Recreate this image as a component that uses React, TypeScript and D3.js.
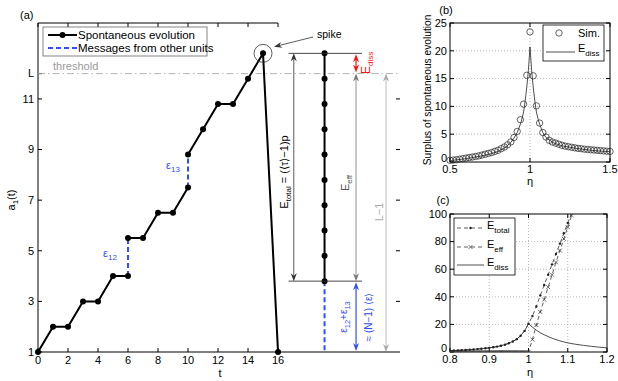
import * as d3 from 'd3';

const FONT = 'Liberation Sans, Arial, Helvetica, sans-serif';

// (a) evolution of one unit a1(t)
const runA_t = [0, 1, 2, 3, 4, 5, 6];
const runA_a = [1, 2, 2, 3, 3, 4, 4];
const runB_t = [6, 7, 8, 9, 10];
const runB_a = [5.5, 5.5, 6.5, 6.5, 7.5];
const runC_t = [10, 11, 12, 13, 14, 15, 16];
const runC_a = [8.8, 9.8, 10.8, 10.8, 11.8, 12.8, 1];
const msgT = [6, 10];
const msgFrom = [4, 7.5];
const msgTo = [5.5, 8.8];
const ladderT = 19.1;
const ladderA = [12.8, 11.8, 10.8, 9.8, 8.8, 7.8, 6.8, 5.8, 4.8, 3.8];
const threshold = 12;
const xTicksA = [0, 2, 4, 6, 8, 10, 12, 14, 16];
const yTicksA = [1, 3, 5, 7, 9, 11, 12];
const yTickLabelsA = ['1', '3', '5', '7', '9', '11', 'L'];

// (b) surplus of spontaneous evolution
const simEta = [0.50, 0.52, 0.54, 0.56, 0.58, 0.60, 0.62, 0.64, 0.66, 0.68,
  0.70, 0.72, 0.74, 0.76, 0.78, 0.80, 0.82, 0.84, 0.86, 0.88,
  0.90, 0.92, 0.94, 0.96, 0.98, 1.00, 1.02, 1.04, 1.06, 1.08,
  1.10, 1.12, 1.14, 1.16, 1.18, 1.20, 1.22, 1.24, 1.26, 1.28,
  1.30, 1.32, 1.34, 1.36, 1.38, 1.40, 1.42, 1.44, 1.46, 1.48, 1.50];
const simVal = [0.3, 0.35, 0.4, 0.5, 0.6, 0.7, 0.8, 0.9, 1.0, 1.1,
  1.25, 1.4, 1.55, 1.7, 1.9, 2.1, 2.4, 2.7, 3.1, 3.6,
  4.4, 5.5, 7.6, 10.4, 15.6, 23.4, 15.5, 10.1, 7.0, 5.3,
  4.5, 3.9, 3.6, 3.4, 3.2, 3.0, 2.85, 2.75, 2.65, 2.55,
  2.45, 2.4, 2.3, 2.25, 2.2, 2.15, 2.1, 2.05, 2.0, 1.95, 1.9];
const dissEtaB = [0.5, 0.6, 0.7, 0.75, 0.8, 0.85, 0.88, 0.9, 0.92, 0.94, 0.95, 0.96, 0.97, 0.98, 0.99, 1.0,
  1.01, 1.02, 1.03, 1.04, 1.05, 1.06, 1.08, 1.1, 1.15, 1.2, 1.3, 1.4, 1.5];
const dissValB = [0.25, 0.6, 1.1, 1.45, 1.9, 2.7, 3.5, 4.3, 5.3, 6.8, 7.8, 9.0, 11.0, 13.5, 16.5, 20.7,
  16.5, 13.5, 11.0, 9.0, 7.8, 6.8, 5.3, 4.4, 3.4, 2.9, 2.4, 2.05, 1.85];

// (c) energy split
const etaC = [0.80, 0.81, 0.82, 0.83, 0.84, 0.85, 0.86, 0.87, 0.88, 0.89, 0.90,
  0.91, 0.92, 0.93, 0.94, 0.95, 0.96, 0.97, 0.98, 0.99, 1.00,
  1.01, 1.02, 1.03, 1.04, 1.05, 1.06, 1.07, 1.08, 1.09, 1.10, 1.11];
const totalC = [1.0, 1.1, 1.2, 1.35, 1.5, 1.7, 1.9, 2.1, 2.4, 2.7, 3.0,
  3.4, 3.9, 4.5, 5.3, 6.3, 7.6, 9.3, 11.8, 15.3, 20.5,
  26, 33, 41, 48.5, 56, 63.5, 71, 78.5, 86, 93.5, 101];
const effEtaLow = [0.800, 0.805, 0.810, 0.815, 0.820, 0.825, 0.830, 0.835, 0.840, 0.845,
  0.850, 0.855, 0.860, 0.865, 0.870, 0.875, 0.880, 0.885, 0.890, 0.895,
  0.900, 0.905, 0.910, 0.915, 0.920, 0.925, 0.930, 0.935, 0.940, 0.945,
  0.950, 0.955, 0.960, 0.965, 0.970, 0.975, 0.980, 0.985, 0.990, 0.995, 1.000];
const effEtaHigh = [1.01, 1.02, 1.03, 1.04, 1.05, 1.06, 1.07, 1.08, 1.09, 1.10, 1.11];
const effValHigh = [9, 19.5, 29, 38, 47, 56, 65, 73.5, 82, 90.5, 99];
const dissEtaC = [0.80, 0.82, 0.84, 0.86, 0.88, 0.90, 0.92, 0.94, 0.96, 0.97, 0.98, 0.99, 1.00,
  1.01, 1.02, 1.03, 1.04, 1.05, 1.06, 1.07, 1.08, 1.09, 1.10, 1.12, 1.14, 1.16, 1.18, 1.20];
const dissValC = [1.0, 1.2, 1.5, 1.9, 2.4, 3.0, 3.9, 5.3, 7.6, 9.3, 11.8, 15.3, 20.5,
  18.0, 15.8, 14.0, 12.5, 11.2, 10.0, 9.0, 8.1, 7.3, 6.6, 5.6, 4.8, 4.1, 3.5, 3.0];

const BLUE = '#2f4dff';
const RED = '#ff1010';

const Head = ({ x, y, ang, color }: { x: number; y: number; ang: number; color: string }) => {
  const L = 8, W = 3, N = 5.5;
  const c = Math.cos(ang), s = Math.sin(ang);
  const bx = x - L * c, by = y - L * s;
  const pts = [[x, y], [bx - W * s, by + W * c], [x - N * c, y - N * s], [bx + W * s, by - W * c]];
  return <polygon points={pts.map(p => p.join(',')).join(' ')} fill={color} />;
};

const VArrow = ({ x, y1, y2, color, w = 0.8 }: { x: number; y1: number; y2: number; color: string; w?: number }) => (
  <g>
    <line x1={x} x2={x} y1={y1 + 3} y2={y2 - 3} stroke={color} strokeWidth={w} />
    <Head x={x} y={y1} ang={-Math.PI / 2} color={color} />
    <Head x={x} y={y2} ang={Math.PI / 2} color={color} />
  </g>
);

// MATLAB-like boxed axes with inward ticks
const BoxAxes = ({ x, y, xTicks, yTicks, xFmt, yFmt, grid }: any) => {
  const [x0, x1] = x.range();
  const [y0, y1] = y.range();
  return (
    <g fontFamily={FONT} fontSize={11}>
      {grid && xTicks.slice(1, -1).map((t: number) => (
        <line key={'gx' + t} x1={x(t)} x2={x(t)} y1={y0} y2={y1} stroke="#aaa" strokeWidth={0.8} strokeDasharray="1,2" />
      ))}
      {grid && yTicks.slice(1, -1).map((t: number) => (
        <line key={'gy' + t} x1={x0} x2={x1} y1={y(t)} y2={y(t)} stroke="#aaa" strokeWidth={0.8} strokeDasharray="1,2" />
      ))}
      <rect x={x0} y={y1} width={x1 - x0} height={y0 - y1} fill="none" stroke="#000" strokeWidth={1} />
      {xTicks.map((t: number) => (
        <g key={'xt' + t}>
          <line x1={x(t)} x2={x(t)} y1={y0} y2={y0 - 4} stroke="#000" />
          <line x1={x(t)} x2={x(t)} y1={y1} y2={y1 + 4} stroke="#000" />
          <text x={x(t)} y={y0 + 11} textAnchor="middle">{xFmt(t)}</text>
        </g>
      ))}
      {yTicks.map((t: number) => (
        <g key={'yt' + t}>
          <line x1={x0} x2={x0 + 4} y1={y(t)} y2={y(t)} stroke="#000" />
          <line x1={x1} x2={x1 - 4} y1={y(t)} y2={y(t)} stroke="#000" />
          <text x={x0 - 3} y={y(t) - (t === 0 ? 4 : 0)} dy="0.35em" textAnchor="end">{yFmt(t)}</text>
        </g>
      ))}
    </g>
  );
};

export default function App() {
  // ---------- panel (a)
  const xA = d3.scaleLinear().domain([0, 24.13]).range([38, 400]);
  const yA = d3.scaleLinear().domain([1, 14]).range([352, 23]);
  const lineA = d3.line<number[]>().x(d => xA(d[0])).y(d => yA(d[1]));
  const zip = (a: number[], b: number[]) => a.map((v, i) => [v, b[i]]);
  const runs = [zip(runA_t, runA_a), zip(runB_t, runB_a), zip(runC_t, runC_a)];
  const yTop = yA(ladderA[0]);
  const yBot = yA(ladderA[ladderA.length - 1]);
  const yL = yA(threshold);
  const yZero = yA(1);
  const xTot = xA(17.05), xEff = xA(21.2), xLm1 = xA(23.2), xLad = xA(ladderT);
  const peak = [runC_t[5], runC_a[5]];

  // ---------- panel (b)
  const xB = d3.scaleLinear().domain([0.5, 1.5]).range([450, 610]);
  const yB = d3.scaleLinear().domain([0, 25]).range([162, 23]);
  const lineB = d3.line<number[]>().x(d => xB(d[0])).y(d => yB(d[1]));

  // ---------- panel (c)
  const xC = d3.scaleLinear().domain([0.8, 1.2]).range([450, 607]);
  const yC = d3.scaleLinear().domain([0, 100]).range([352, 214]);
  const lineC = d3.line<number[]>().x(d => xC(d[0])).y(d => yC(d[1]));
  const effAll = [...effEtaLow.map(e => [e, 0]), ...zip(effEtaHigh, effValHigh)];
  const totAll = zip(etaC, totalC);

  return (
    <svg width={618} height={381} style={{ position: 'absolute', left: 0, top: 0, background: '#fff' }} fontFamily={FONT}>
      <defs>
        <clipPath id="clipC"><rect x={450} y={214} width={157} height={138} /></clipPath>
        <clipPath id="clipB"><rect x={450} y={23} width={160} height={139} /></clipPath>
      </defs>

      {/* ================= (a) ================= */}
      <text x={20} y={19} fontSize={11}>(a)</text>
      <line x1={38} x2={400} y1={yZero} y2={yZero} stroke="#000" strokeWidth={1.2} />
      <line x1={38} x2={38} y1={23} y2={yZero} stroke="#000" strokeWidth={1} />
      <line x1={38} x2={xA(16)} y1={23} y2={23} stroke="#000" strokeWidth={1} />
      {xTicksA.map(t => (
        <g key={'ax' + t}>
          <line x1={xA(t)} x2={xA(t)} y1={yZero} y2={yZero - 4} stroke="#000" />
          <line x1={xA(t)} x2={xA(t)} y1={23} y2={27} stroke="#000" />
          <text x={xA(t)} y={364} textAnchor="middle" fontSize={11}>{t}</text>
        </g>
      ))}
      {yTicksA.map((t, i) => (
        <g key={'ay' + t}>
          <line x1={38} x2={42} y1={yA(t)} y2={yA(t)} stroke="#000" />
          <text x={34} y={yA(t)} dy="0.35em" textAnchor="end" fontSize={11}>{yTickLabelsA[i]}</text>
        </g>
      ))}
      {yTicksA.filter(t => t > 1 && t < 12).map(t => (
        <line key={'ar' + t} x1={400} x2={396} y1={yA(t)} y2={yA(t)} stroke="#000" />
      ))}
      <text transform={`translate(15,200) rotate(-90)`} textAnchor="middle" fontSize={11}>
        <tspan>a</tspan><tspan fontSize={8} dy={3}>1</tspan><tspan dy={-3}>(t)</tspan>
      </text>
      <text x={220} y={377} textAnchor="middle" fontSize={11}>t</text>

      {/* threshold */}
      <line x1={38} x2={400} y1={yL} y2={yL} stroke="#aaa" strokeWidth={0.9} strokeDasharray="7,3,1.5,3" />
      <text x={53} y={70} fontSize={11} fill="#999">threshold</text>

      {/* messages */}
      {msgT.map((t, i) => (
        <line key={'m' + i} x1={xA(t)} x2={xA(t)} y1={yA(msgFrom[i])} y2={yA(msgTo[i])} stroke={BLUE} strokeWidth={2} strokeDasharray="5,3" />
      ))}
      <line x1={xLad} x2={xLad} y1={yBot} y2={yZero} stroke={BLUE} strokeWidth={2} strokeDasharray="5,3" />
      <text x={110} y={257} fontSize={11} fill={BLUE} textAnchor="middle">ε<tspan fontSize={8} dy={3}>12</tspan></text>
      <text x={173} y={169} fontSize={11} fill={BLUE} textAnchor="middle">ε<tspan fontSize={8} dy={3}>13</tspan></text>

      {/* spontaneous evolution */}
      {runs.map((r, i) => (
        <g key={'r' + i}>
          <path d={lineA(r) || ''} fill="none" stroke="#000" strokeWidth={2} />
          {r.map((p, j) => <circle key={j} cx={xA(p[0])} cy={yA(p[1])} r={3} fill="#000" />)}
        </g>
      ))}
      {/* ladder */}
      <line x1={xLad} x2={xLad} y1={yTop} y2={yBot} stroke="#000" strokeWidth={2} />
      {ladderA.map((a, j) => <circle key={'l' + j} cx={xLad} cy={yA(a)} r={3} fill="#000" />)}
      <line x1={xA(16.7)} x2={xA(21.6)} y1={yTop} y2={yTop} stroke="#333" strokeWidth={0.9} />
      <line x1={xA(16.7)} x2={xA(21.6)} y1={yBot} y2={yBot} stroke="#333" strokeWidth={0.9} />

      {/* spike */}
      <circle cx={xA(peak[0])} cy={yA(peak[1])} r={9} fill="none" stroke="#333" strokeWidth={0.8} />
      <line x1={313} y1={37} x2={279} y2={45.5} stroke="#333" strokeWidth={0.8} />
      <Head x={274} y={46.8} ang={Math.atan2(46.8 - 37, 274 - 313)} color="#333" />
      <text x={317} y={38} fontSize={10.5}>spike</text>

      {/* energy arrows */}
      <VArrow x={xTot} y1={yTop} y2={yBot} color="#333" />
      <VArrow x={xEff} y1={yL} y2={yBot} color="#777" />
      <VArrow x={xEff} y1={yTop + 1} y2={yL - 1} color={RED} w={1.2} />
      <VArrow x={xLm1} y1={yL} y2={yZero} color="#aaa" />
      <VArrow x={xEff} y1={yBot + 1} y2={yZero - 1} color={BLUE} w={1.2} />

      <text transform={`translate(288,172) rotate(-90)`} textAnchor="middle" fontSize={11} fill="#000">
        E<tspan fontSize={8} dy={3}>total</tspan><tspan dy={-3}> = (⟨τ⟩−1)p</tspan>
      </text>
      <text transform={`translate(349,183) rotate(-90)`} textAnchor="middle" fontSize={11} fill="#555">
        E<tspan fontSize={8} dy={3}>eff</tspan>
      </text>
      <text transform={`translate(383,212) rotate(-90)`} textAnchor="middle" fontSize={11} fill="#aaa">L−1</text>
      <text transform={`translate(370,74) rotate(-90)`} fontSize={12} fill={RED}>
        E<tspan fontSize={8} dy={3}>diss</tspan>
      </text>
      <text transform={`translate(347,317) rotate(-90)`} textAnchor="middle" fontSize={10} fill={BLUE}>
        ε<tspan fontSize={7.5} dy={3}>12</tspan><tspan dy={-3}>+ε</tspan><tspan fontSize={7.5} dy={3}>13</tspan>
      </text>
      <text transform={`translate(372,317) rotate(-90)`} textAnchor="middle" fontSize={10} fill={BLUE}>≈ (N−1) ⟨ε⟩</text>

      {/* legend (a) */}
      <rect x={43} y={27} width={164} height={29} fill="#fff" stroke="#666" strokeWidth={0.8} />
      <line x1={48} x2={77} y1={35} y2={35} stroke="#000" strokeWidth={2} />
      <circle cx={62.5} cy={35} r={3} fill="#000" />
      <text x={78} y={39} fontSize={11.5}>Spontaneous evolution</text>
      <line x1={48} x2={77} y1={48} y2={48} stroke={BLUE} strokeWidth={2} strokeDasharray="5,3" />
      <text x={78} y={52} fontSize={11.5}>Messages from other units</text>

      {/* ================= (b) ================= */}
      <BoxAxes x={xB} y={yB} xTicks={[0.5, 1, 1.5]} yTicks={[0, 5, 10, 15, 20, 25]}
        xFmt={(t: number) => String(t)} yFmt={(t: number) => String(t)} grid />
      <g clipPath="url(#clipB)">
        <path d={lineB(zip(dissEtaB, dissValB)) || ''} fill="none" stroke="#222" strokeWidth={0.8} />
      </g>
      {simEta.map((e, i) => (
        <circle key={'s' + i} cx={xB(e)} cy={yB(simVal[i])} r={3.2} fill="none" stroke="#222" strokeWidth={0.7} />
      ))}
      <text x={446} y={14} fontSize={11} textAnchor="middle">(b)</text>
      <text x={530} y={185} fontSize={11} textAnchor="middle">η</text>
      <text transform={`translate(431,90) rotate(-90)`} textAnchor="middle" fontSize={10.2}>Surplus of spontaneous evolution</text>
      <rect x={543} y={25} width={61} height={36} fill="#fff" stroke="#000" strokeWidth={0.8} />
      <circle cx={559} cy={33} r={3.2} fill="none" stroke="#222" strokeWidth={0.7} />
      <text x={578} y={37} fontSize={11}>Sim.</text>
      <line x1={546} x2={575} y1={52} y2={52} stroke="#222" strokeWidth={0.8} />
      <text x={578} y={52} fontSize={11}>E<tspan fontSize={8} dy={4}>diss</tspan></text>

      {/* ================= (c) ================= */}
      <BoxAxes x={xC} y={yC} xTicks={[0.8, 0.9, 1, 1.1, 1.2]} yTicks={[0, 20, 40, 60, 80, 100]}
        xFmt={(t: number) => String(t)} yFmt={(t: number) => String(t)} grid />
      <g clipPath="url(#clipC)">
        <path d={lineC(zip(dissEtaC, dissValC)) || ''} fill="none" stroke="#222" strokeWidth={0.8} />
        <path d={lineC(effAll) || ''} fill="none" stroke="#333" strokeWidth={0.8} strokeDasharray="4,3" />
        <path d={lineC(totAll) || ''} fill="none" stroke="#333" strokeWidth={0.8} strokeDasharray="4,3" />
        {effAll.map((p, i) => (
          <path key={'x' + i} d={`M${xC(p[0]) - 2},${yC(p[1]) - 2}L${xC(p[0]) + 2},${yC(p[1]) + 2}M${xC(p[0]) - 2},${yC(p[1]) + 2}L${xC(p[0]) + 2},${yC(p[1]) - 2}`}
            stroke="#333" strokeWidth={0.7} />
        ))}
        {totAll.map((p, i) => <circle key={'d' + i} cx={xC(p[0])} cy={yC(p[1])} r={1.2} fill="#222" />)}
      </g>
      <text x={443} y={204} fontSize={11} textAnchor="middle">(c)</text>
      <text x={530} y={376} fontSize={11} textAnchor="middle">η</text>
      <rect x={454} y={218} width={61} height={57} fill="#fff" stroke="#000" strokeWidth={0.8} />
      <line x1={457} x2={484} y1={228} y2={228} stroke="#333" strokeWidth={0.8} strokeDasharray="4,3" />
      <circle cx={470.5} cy={228} r={1.2} fill="#222" />
      <text x={487} y={229} fontSize={11}>E<tspan fontSize={8} dy={4}>total</tspan></text>
      <line x1={457} x2={484} y1={247} y2={247} stroke="#333" strokeWidth={0.8} strokeDasharray="4,3" />
      <path d="M468.5,245L472.5,249M468.5,249L472.5,245" stroke="#333" strokeWidth={0.7} />
      <text x={487} y={248} fontSize={11}>E<tspan fontSize={8} dy={4}>eff</tspan></text>
      <line x1={457} x2={484} y1={265} y2={265} stroke="#222" strokeWidth={0.8} />
      <text x={487} y={266} fontSize={11}>E<tspan fontSize={8} dy={4}>diss</tspan></text>
    </svg>
  );
}
